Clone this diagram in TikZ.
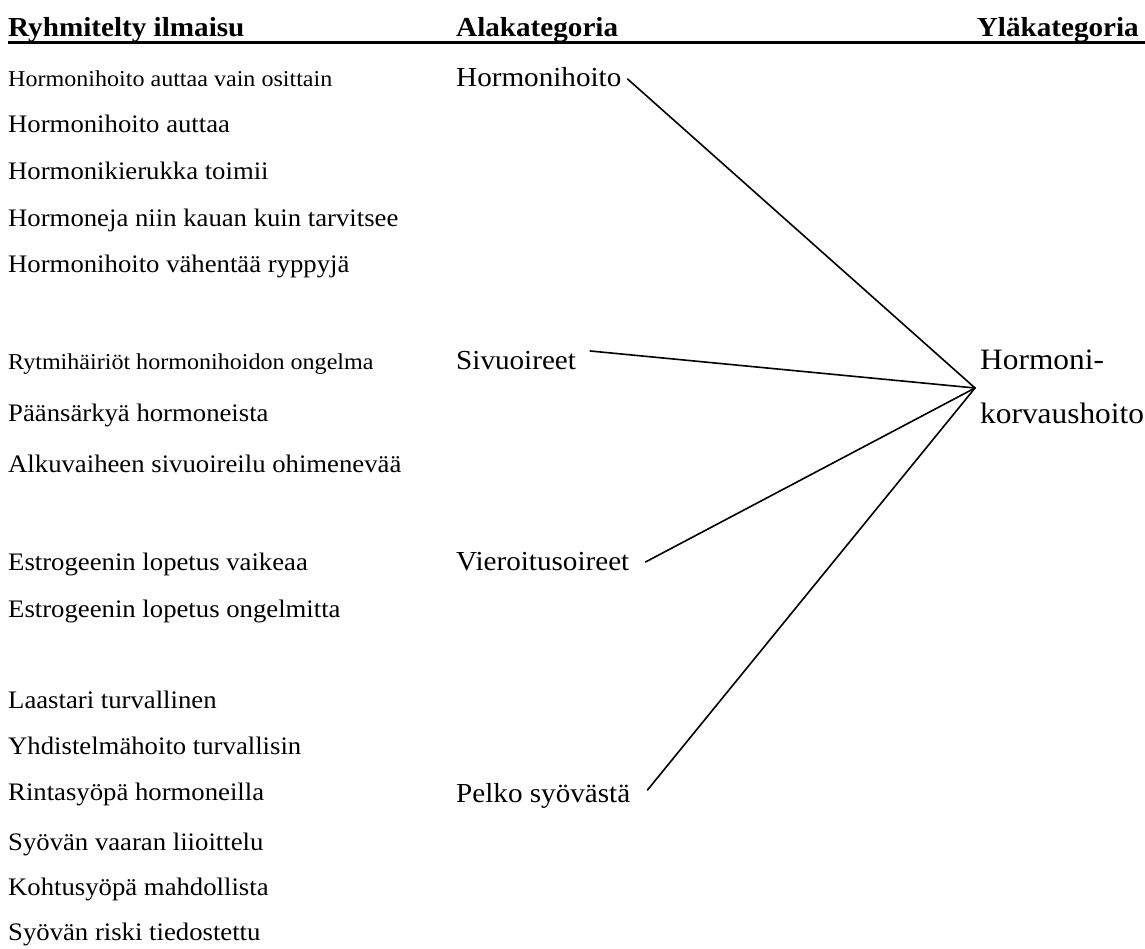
\documentclass[tikz,border=0pt]{standalone}
\usepackage{fontspec}
\setmainfont{Liberation Serif}[FakeStretch=1.06]
\begin{document}
\begin{tikzpicture}[x=1pt,y=-1pt,
  txt/.style={anchor=base west,inner sep=0pt,font=\fontsize{25.2}{30}\selectfont},
  small/.style={txt,font=\fontsize{22.7}{27}\selectfont},
  head/.style={anchor=base west,inner sep=0pt,font=\fontsize{27.5}{32}\selectfont\bfseries},
  subcat/.style={anchor=base west,inner sep=0pt,font=\fontsize{27.5}{32}\selectfont},
  topcat/.style={anchor=base west,inner sep=0pt,font=\fontsize{29.6}{34}\selectfont},
  link/.style={line width=1.6pt,line cap=round}]
\useasboundingbox (0,0) rectangle (1145,949);

% column headings and rule
\node[head] (h1) at (8,37) {Ryhmitelty ilmaisu};
\node[head] (h2) at (456,37) {Alakategoria};
\node[head,anchor=base east] (h3) at (1139,37) {Yläkategoria};
\coordinate (ruleL) at (8,42.5);
\coordinate (ruleR) at (1145,42.5);
\draw[line width=3pt] (ruleL) -- (ruleR);

% grouped expressions
\node[small] (e1)  at (8,87)  {Hormonihoito auttaa vain osittain};
\node[txt]   (e2)  at (8,133) {Hormonihoito auttaa};
\node[txt]   (e3)  at (8,180) {Hormonikierukka toimii};
\node[txt]   (e4)  at (8,227) {Hormoneja niin kauan kuin tarvitsee};
\node[txt]   (e5)  at (8,273) {Hormonihoito vähentää ryppyjä};
\node[small] (e6)  at (8,369) {Rytmihäiriöt hormonihoidon ongelma};
\node[txt]   (e7)  at (8,421) {Päänsärkyä hormoneista};
\node[txt]   (e8)  at (8,472) {Alkuvaiheen sivuoireilu ohimenevää};
\node[txt]   (e9)  at (8,570) {Estrogeenin lopetus vaikeaa};
\node[txt]   (e10) at (8,617) {Estrogeenin lopetus ongelmitta};
\node[txt]   (e11) at (8,708) {Laastari turvallinen};
\node[txt]   (e12) at (8,754) {Yhdistelmähoito turvallisin};
\node[txt]   (e13) at (8,800) {Rintasyöpä hormoneilla};
\node[txt]   (e14) at (8,850) {Syövän vaaran liioittelu};
\node[txt]   (e15) at (8,895) {Kohtusyöpä mahdollista};
\node[txt]   (e16) at (8,940) {Syövän riski tiedostettu};

% subcategories
\node[subcat] (s1) at (456,87)  {Hormonihoito};
\node[subcat] (s2) at (456,369) {Sivuoireet};
\node[subcat] (s3) at (456,570) {Vieroitusoireet};
\node[subcat] (s4) at (456,802) {Pelko syövästä};

% main category
\node[topcat] (t1) at (980,369) {Hormoni-};
\node[topcat] (t2) at (980,423) {korvaushoito};

% connectors
\coordinate (hub) at (975,388);
\coordinate (s1end) at ([shift={(6,-8)}]s1.base east);
\coordinate (s2end) at ([shift={(14,-18)}]s2.base east);
\coordinate (s3end) at ([shift={(16,-8)}]s3.base east);
\coordinate (s4end) at ([shift={(17,-12)}]s4.base east);
\draw[link] (s1end) -- (hub);
\draw[link] (s2end) -- (hub);
\draw[link] (s3end) -- (hub);
\draw[link] (s4end) -- (hub);
\end{tikzpicture}
\end{document}
